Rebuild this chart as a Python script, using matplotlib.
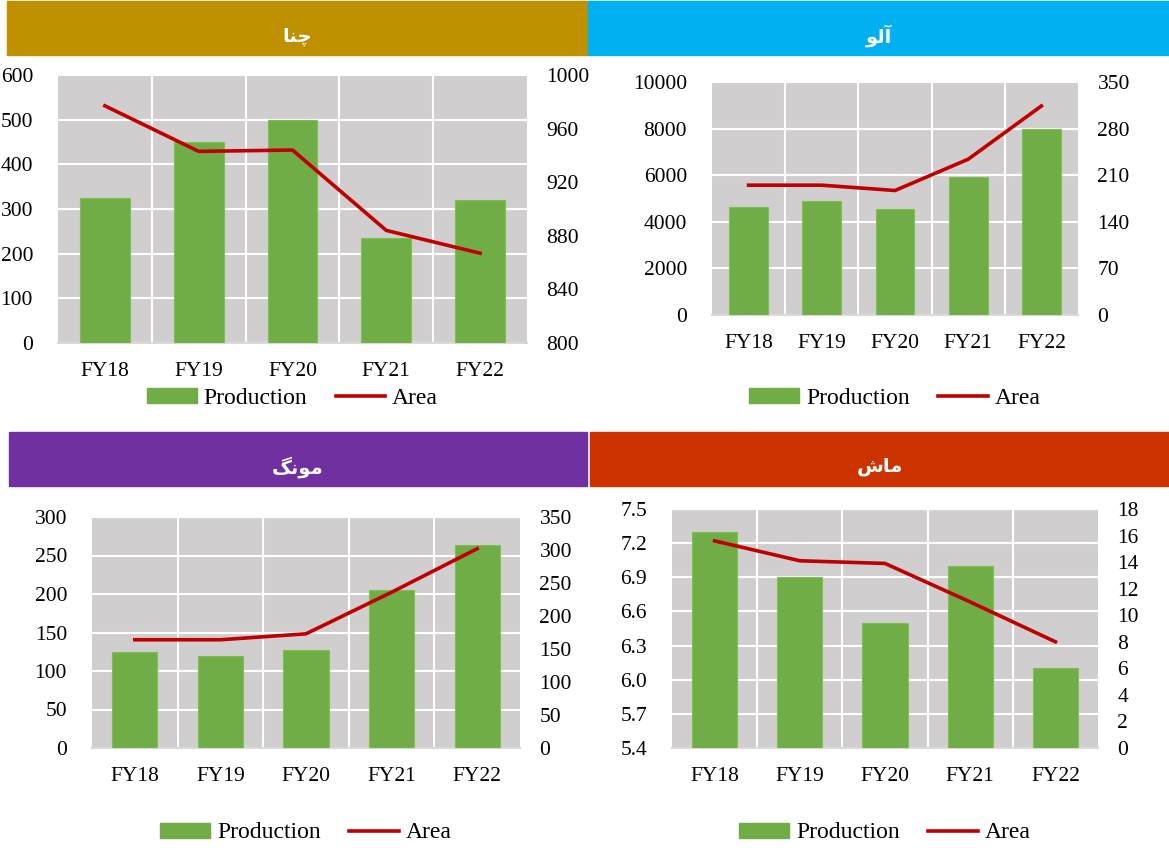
import numpy as np
import matplotlib.pyplot as plt
from matplotlib.patches import Rectangle
from matplotlib.lines import Line2D

W, H = 1169, 850

years = ["FY18", "FY19", "FY20", "FY21", "FY22"]

# gram (chana)
gram_prod = [325, 450, 500, 235, 320]
gram_area = [977, 943, 944, 884, 867]
# potato (aloo)
potato_prod = [4650, 4880, 4550, 5930, 7970]
potato_area = [195, 195, 187, 234, 314]
# moong
moong_prod = [125, 120, 127, 205, 264]
moong_area = [164, 164, 173, 236, 302]
# mash
mash_prod = [7.3, 6.9, 6.5, 7.0, 6.1]
mash_area = [15.6, 14.1, 13.9, 11.0, 8.0]

# titles, shaped with Arabic presentation forms (visual order)
titles = ["\uFE8E\uFEE8\uFB7C", "\uFEEE\uFEDF\uFE81",
          "\uFB93\uFEE7\uFEEE\uFEE3", "\uFEB5\uFE8E\uFEE3"]

plt.rcParams['font.family'] = ['Liberation Serif', 'DejaVu Serif']
fig = plt.figure(figsize=(W / 100, H / 100), dpi=100)

def px_axes(x0, y0, x1, y1):
    return fig.add_axes([x0 / W, 1 - y1 / H, (x1 - x0) / W, (y1 - y0) / H])

def banner(x0, y0, x1, y1, color, text):
    fig.patches.append(Rectangle((x0 / W, 1 - y1 / H), (x1 - x0) / W, (y1 - y0) / H,
                                 transform=fig.transFigure, color=color, zorder=0))
    fig.text((x0 + x1) / 2 / W, 1 - ((y0 + y1) / 2 + 8) / H, text, color='white',
             fontsize=14, fontweight='bold', ha='center', va='center',
             family=['DejaVu Sans'])

def panel(box, prod, area, lticks, rticks, legend_y):
    x0, y0, x1, y1 = box
    ax = px_axes(x0, y0, x1, y1)
    x = np.arange(len(years))
    ax.set_facecolor('#D0CECE')
    ax.bar(x, prod, width=0.53, color='#70AD47', edgecolor='#7CC04E', linewidth=0.8, zorder=3)
    ax.set_xlim(-0.5, len(years) - 0.5)
    ax.set_ylim(lticks[0], lticks[-1])
    ax.set_yticks(lticks)
    for v in lticks[1:]:
        ax.axhline(v, color='white', linewidth=1.5, zorder=1)
    for v in np.arange(0.5, len(years) - 0.5, 1):
        ax.axvline(v, color='white', linewidth=1.5, zorder=1)
    ax.set_xticks(x)
    ax.set_xticklabels(years)
    for s in ['top', 'right', 'left']:
        ax.spines[s].set_visible(False)
    ax.spines['bottom'].set_color('#D9D9D9')
    ax.spines['bottom'].set_linewidth(1.5)
    ax.tick_params(length=0, labelsize=15.5, colors='black')
    ax.tick_params(axis='x', pad=14)
    ax.tick_params(axis='y', pad=18)
    ax2 = ax.twinx()
    ax2.plot(x, area, color='#C00000', linewidth=2.6, zorder=4)
    ax2.set_ylim(rticks[0], rticks[-1])
    ax2.set_yticks(rticks)
    for s in ['top', 'right', 'left', 'bottom']:
        ax2.spines[s].set_visible(False)
    ax2.tick_params(length=0, labelsize=15.5, pad=14)
    handles = [Rectangle((0, 0), 1, 1, color='#70AD47'),
               Line2D([0], [0], color='#C00000', linewidth=2.6)]
    fig.legend(handles, ['Production', 'Area'], loc='center',
               bbox_to_anchor=((x0 + x1) / 2 / W, 1 - legend_y / H),
               ncol=2, frameon=False, fontsize=17, handlelength=2.1,
               handleheight=0.6, columnspacing=1.2, handletextpad=0.3)
    return ax

banner(7, 1, 587, 55, '#BF9000', titles[0])
banner(588, 1, 1169, 55, '#00B0F0', titles[1])
banner(9, 432, 587, 486, '#7030A0', titles[2])
banner(590, 432, 1169, 486, '#CC3300', titles[3])

panel((58, 75, 527, 343), gram_prod, gram_area,
      np.arange(0, 601, 100), np.arange(800, 1001, 40), 398)
panel((712, 82, 1078, 315), potato_prod, potato_area,
      np.arange(0, 10001, 2000), np.arange(0, 351, 70), 398)
panel((92, 517, 520, 748), moong_prod, moong_area,
      np.arange(0, 301, 50), np.arange(0, 351, 50), 833)
ax4 = panel((672, 509, 1098, 748), mash_prod, mash_area,
            np.round(np.arange(5.4, 7.51, 0.3), 1), np.arange(0, 19, 2), 833)
ax4.set_yticklabels([f"{v:.1f}" for v in np.round(np.arange(5.4, 7.51, 0.3), 1)])

fig.savefig('out.png', dpi=100)
